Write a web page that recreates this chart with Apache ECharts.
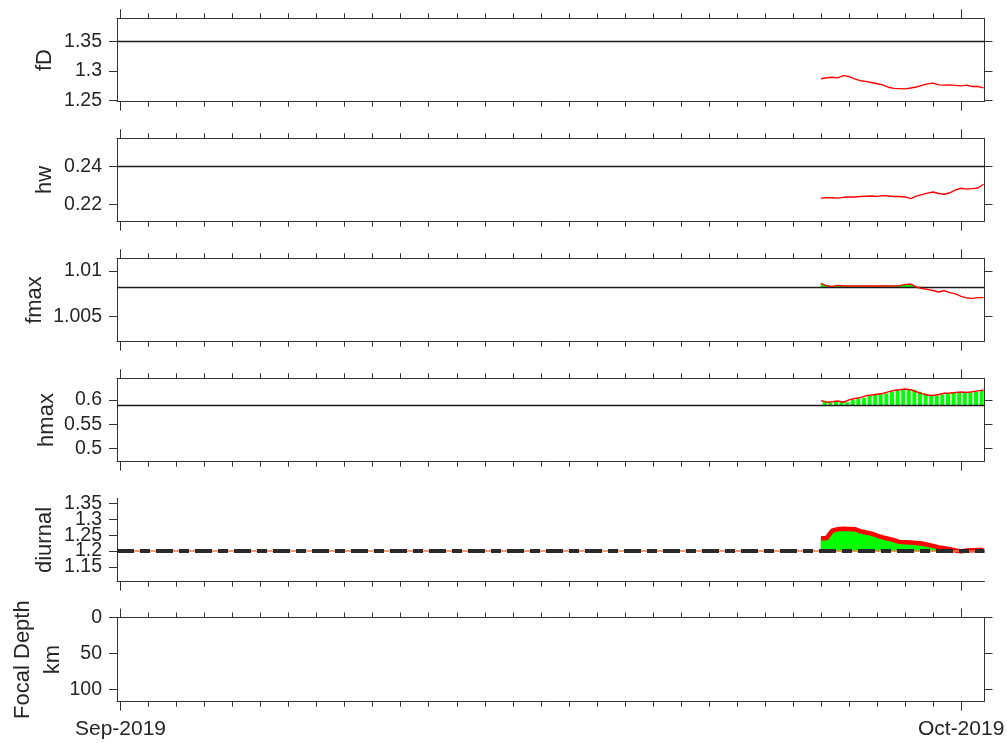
<!DOCTYPE html>
<html>
<head>
<meta charset="utf-8">
<script src="https://cdn.jsdelivr.net/npm/echarts@6/dist/echarts.min.js"></script>
<style>
html, body { margin: 0; padding: 0; background: #ffffff; }
#chart { width: 1007px; height: 743px; }
</style>
</head>
<body>
<div id="chart"></div>
<script>
// Sample times (every 0.2 day) for the monitored window at the end of September 2019
const sampleTimes = [
  '2019-09-26 00:00', '2019-09-26 04:48', '2019-09-26 09:36', '2019-09-26 14:24', '2019-09-26 19:12',
  '2019-09-27 00:00', '2019-09-27 04:48', '2019-09-27 09:36', '2019-09-27 14:24', '2019-09-27 19:12',
  '2019-09-28 00:00', '2019-09-28 04:48', '2019-09-28 09:36', '2019-09-28 14:24', '2019-09-28 19:12',
  '2019-09-29 00:00', '2019-09-29 04:48', '2019-09-29 09:36', '2019-09-29 14:24', '2019-09-29 19:12',
  '2019-09-30 00:00', '2019-09-30 04:48', '2019-09-30 09:36', '2019-09-30 14:24', '2019-09-30 19:12',
  '2019-10-01 00:00', '2019-10-01 04:48', '2019-10-01 09:36', '2019-10-01 14:24', '2019-10-01 19:12'
];

const fD = [
  1.2867, 1.2885, 1.2893, 1.2881, 1.2920, 1.2905, 1.2864, 1.2834, 1.2822, 1.2804,
  1.2781, 1.2762, 1.2723, 1.2703, 1.2699, 1.2695, 1.2709, 1.2727, 1.2755, 1.2780,
  1.2792, 1.2762, 1.2759, 1.2762, 1.2754, 1.2745, 1.2758, 1.2735, 1.2735, 1.2712
];
const hw = [
  0.2232, 0.2234, 0.2234, 0.2232, 0.2236, 0.2238, 0.2238, 0.2240, 0.2242, 0.2243,
  0.2241, 0.2245, 0.2243, 0.2240, 0.2240, 0.2238, 0.2229, 0.2242, 0.2250, 0.2258,
  0.2264, 0.2256, 0.2252, 0.2260, 0.2275, 0.2284, 0.2279, 0.2282, 0.2285, 0.2305
];
const fmax = [
  1.00865, 1.00838, 1.00832, 1.00842, 1.00836, 1.00836, 1.00835, 1.00836, 1.00835, 1.00836,
  1.00835, 1.00836, 1.00835, 1.00836, 1.00840, 1.00851, 1.00857, 1.00825, 1.00808, 1.00799,
  1.00786, 1.00770, 1.00786, 1.00763, 1.00750, 1.00723, 1.00705, 1.00700, 1.00708, 1.00708
];
const hmax = [
  0.5986, 0.5955, 0.5962, 0.5977, 0.5953, 0.6002, 0.6029, 0.6048, 0.6085, 0.6101,
  0.6118, 0.6135, 0.6167, 0.6196, 0.6209, 0.6227, 0.6211, 0.6171, 0.6131, 0.6102,
  0.6090, 0.6114, 0.6139, 0.6146, 0.6154, 0.6163, 0.6152, 0.6169, 0.6188, 0.6205
];
const diurnal = [
  1.2407, 1.2407, 1.2641, 1.2690, 1.2700, 1.2695, 1.2690, 1.2625, 1.2587, 1.2550,
  1.2485, 1.2430, 1.2390, 1.2345, 1.2290, 1.2280, 1.2268, 1.2255, 1.2240, 1.2200,
  1.2165, 1.2115, 1.2090, 1.2056, 1.2020, 1.1992, 1.2022, 1.2028, 1.2032, 1.2032
];

// Reference (threshold) levels drawn across each panel
const fDLevel = 1.35;
const hwLevel = 0.24;
const fmaxLevel = 1.00822;
const hmaxLevel = 0.5882;
const diurnalLevel = 1.2;

// Tick labels of the value axes
const fDTicks = [1.25, 1.3, 1.35];
const hwTicks = [0.22, 0.24];
const fmaxTicks = [1.005, 1.01];
const hmaxTicks = [0.5, 0.55, 0.6];
const diurnalTicks = [1.15, 1.2, 1.25, 1.3, 1.35];
const depthTicks = [0, 50, 100];

// Month labels on the time axis
const monthTicks = ['2019-09-01 00:00', '2019-10-01 00:00'];
const monthNames = ['Jan', 'Feb', 'Mar', 'Apr', 'May', 'Jun', 'Jul', 'Aug', 'Sep', 'Oct', 'Nov', 'Dec'];

const FONT = '"Liberation Sans", Arial, Helvetica, sans-serif';
const AXIS_COLOR = '#333333';
const TEXT_COLOR = '#262626';
const DAY = 86400000;
const STEP = 0.2 * DAY;

const parse = (s) => echarts.time.parse(s).getTime();
const tMin = parse('2019-08-31 21:00');
const tMax = parse('2019-10-01 20:00');
const monthValues = monthTicks.map(parse);
const dayValues = [];
for (let d = 0; d <= 30; d++) dayValues.push(parse('2019-09-01 00:00') + d * DAY);
const times = sampleTimes.map(parse);

const panels = [
  { name: 'fD', ticks: fDTicks, min: 1.2476, max: 1.3897, gap: 57, top: 18.3, height: 83.4, box: true },
  { name: 'hw', ticks: hwTicks, min: 0.21074, max: 0.25473, gap: 57, top: 138.3, height: 83.4, box: true },
  { name: 'fmax', ticks: fmaxTicks, min: 1.00226, max: 1.01139, gap: 67, top: 258.3, height: 83.4, box: true },
  { name: 'hmax', ticks: hmaxTicks, min: 0.4723, max: 0.6448, gap: 55, top: 378.3, height: 83.4, box: true },
  { name: 'diurnal', ticks: diurnalTicks, min: 1.1038, max: 1.366, gap: 57, top: 498.3, height: 83.4, box: false },
  { name: 'Focal Depth\nkm', ticks: depthTicks, min: 0, max: 117.5, gap: 49, top: 617.5, height: 84.2, box: true, inverse: true }
];

const grids = [], xAxes = [], yAxes = [], series = [];
const xMain = [], yMain = [];

function xAxis(gi, position, len, ticks, showLine, labels) {
  return {
    type: 'value', gridIndex: gi, position: position, min: tMin, max: tMax, scale: true,
    axisLine: { show: showLine, onZero: false, lineStyle: { color: AXIS_COLOR, width: 1 } },
    axisTick: { show: true, inside: false, length: len, customValues: ticks,
                lineStyle: { color: AXIS_COLOR, width: 1 } },
    axisLabel: labels ? {
      show: true, customValues: labels, margin: 17, fontSize: 21, color: TEXT_COLOR, fontFamily: FONT,
      hideOverlap: false,
      formatter: (v) => { const d = new Date(v); return monthNames[d.getMonth()] + '-' + d.getFullYear(); }
    } : { show: false },
    splitLine: { show: false }
  };
}

function yLabelStyle(values) {
  return { show: true, customValues: values, margin: 15, fontSize: 19.5, color: TEXT_COLOR,
           fontFamily: FONT, hideOverlap: false, interval: 0, formatter: (v) => String(v) };
}

panels.forEach((p, i) => {
  grids.push({ left: 117, width: 867.5, top: p.top, height: p.height, outerBoundsMode: 'none', containLabel: false });
  const last = i === panels.length - 1;
  // bottom axis: daily ticks + longer month ticks
  xMain.push(xAxes.length);
  xAxes.push(xAxis(i, 'bottom', 5, dayValues, true, last ? monthValues : null));
  xAxes.push(xAxis(i, 'bottom', 9, monthValues, false, null));
  if (p.box) {
    xAxes.push(xAxis(i, 'top', 5, dayValues, true, null));
    xAxes.push(xAxis(i, 'top', 9, monthValues, false, null));
  }
  // densely packed tick labels are split over two label layers so none is dropped
  const mainLabels = p.ticks.filter((v, k) => p.ticks.length < 5 || k % 2 === 0);
  const extraLabels = p.ticks.filter((v, k) => p.ticks.length >= 5 && k % 2 === 1);
  yMain.push(yAxes.length);
  yAxes.push({
    type: 'value', gridIndex: i, position: 'left', min: p.min, max: p.max, inverse: !!p.inverse,
    axisLine: { show: true, onZero: false, lineStyle: { color: AXIS_COLOR, width: 1 } },
    axisTick: { show: true, length: 8, customValues: p.ticks, lineStyle: { color: AXIS_COLOR, width: 1 } },
    axisLabel: yLabelStyle(mainLabels),
    splitLine: { show: false },
    name: p.name, nameLocation: 'middle', nameGap: p.gap, nameRotate: 90, nameMoveOverlap: false,
    nameTextStyle: { fontSize: 22, color: TEXT_COLOR, fontFamily: FONT, lineHeight: 30, align: 'center' }
  });
  if (extraLabels.length) {
    yAxes.push({
      type: 'value', gridIndex: i, position: 'left', min: p.min, max: p.max, inverse: !!p.inverse,
      axisLine: { show: false, onZero: false },
      axisTick: { show: false },
      axisLabel: yLabelStyle(extraLabels),
      splitLine: { show: false }
    });
  }
  if (p.box) {
    yAxes.push({
      type: 'value', gridIndex: i, position: 'right', min: p.min, max: p.max, inverse: !!p.inverse,
      axisLine: { show: true, onZero: false, lineStyle: { color: AXIS_COLOR, width: 1 } },
      axisTick: { show: true, length: 8, customValues: p.ticks, lineStyle: { color: AXIS_COLOR, width: 1 } },
      axisLabel: { show: false },
      splitLine: { show: false }
    });
  }
});

function pairs(values) { return times.map((t, i) => [t, values[i]]); }
function segments(values) {
  const out = [];
  for (let i = 0; i < times.length - 1; i++) out.push([times[i], values[i], times[i + 1], values[i + 1]]);
  return out;
}

function redLine(pi, values, width) {
  return {
    type: 'line', xAxisIndex: xMain[pi], yAxisIndex: yMain[pi], data: pairs(values),
    symbol: 'none', showSymbol: false, z: 10, silent: true,
    lineStyle: { color: '#ff0000', width: width }
  };
}

function levelLine(pi, level) {
  return {
    type: 'line', xAxisIndex: xMain[pi], yAxisIndex: yMain[pi], data: [], z: 3, silent: true,
    markLine: { z: 3, silent: true, symbol: 'none', animation: false, precision: 8,
                label: { show: false },
                lineStyle: { color: '#1a1a1a', width: 1.3, type: 'solid' },
                emphasis: { disabled: true },
                data: [{ yAxis: level }] }
  };
}

// green fill between a level and the curve (only where the curve is above it)
function greenArea(pi, values, level) {
  return {
    type: 'custom', xAxisIndex: xMain[pi], yAxisIndex: yMain[pi], z: 2, silent: true, clip: true,
    data: segments(values), encode: { x: [0, 2], y: [1, 3] },
    renderItem: (params, api) => {
      const t0 = api.value(0), v0 = api.value(1), t1 = api.value(2), v1 = api.value(3);
      if (v0 <= level && v1 <= level) return null;
      const a = api.coord([t0, Math.max(v0, level)]);
      const b = api.coord([t1, Math.max(v1, level)]);
      const c = api.coord([t1, level]);
      const d = api.coord([t0, level]);
      return { type: 'polygon', shape: { points: [a, b, c, d] },
               style: { fill: '#00ff00', stroke: '#00ff00', lineWidth: 0.6 } };
    }
  };
}

// green stems from a level up to each sample
function greenBars(pi, values, level) {
  return {
    type: 'custom', xAxisIndex: xMain[pi], yAxisIndex: yMain[pi], z: 2, silent: true, clip: true,
    data: pairs(values), encode: { x: 0, y: 1 },
    renderItem: (params, api) => {
      const t = api.value(0), v = api.value(1);
      const top = api.coord([t, Math.max(v, level)]);
      const bot = api.coord([t, level]);
      const sp = api.size([STEP, 0])[0];
      return { type: 'rect',
               shape: { x: top[0] + 0.3 * sp, y: Math.min(top[1], bot[1]), width: 0.72 * sp,
                        height: Math.abs(bot[1] - top[1]) },
               style: { fill: '#00ff00' } };
    }
  };
}

// fD
series.push(levelLine(0, fDLevel), redLine(0, fD, 1.4));
// hw
series.push(levelLine(1, hwLevel), redLine(1, hw, 1.4));
// fmax
series.push(greenArea(2, fmax, fmaxLevel), levelLine(2, fmaxLevel), redLine(2, fmax, 1.4));
// hmax
series.push(greenBars(3, hmax, hmaxLevel), levelLine(3, hmaxLevel), redLine(3, hmax, 1.5));
// diurnal
series.push(greenArea(4, diurnal, diurnalLevel), redLine(4, diurnal, 4.5));
series.push({
  type: 'line', xAxisIndex: xMain[4], yAxisIndex: yMain[4], data: [], z: 12, silent: true,
  markLine: {
    z: 12, silent: true, symbol: 'none', animation: false, precision: 8, label: { show: false },
    emphasis: { disabled: true },
    data: [
      { yAxis: diurnalLevel, lineStyle: { color: '#f07a4a', width: 1.6, type: 'solid' } },
      { yAxis: diurnalLevel, lineStyle: { color: '#2a2a2a', width: 4, type: [17, 6, 10, 6] } }
    ]
  }
});

const chart = echarts.init(document.getElementById('chart'), null, { renderer: 'canvas' });
chart.setOption({
  backgroundColor: '#ffffff',
  animation: false,
  grid: grids,
  xAxis: xAxes,
  yAxis: yAxes,
  series: series
});
</script>
</body>
</html>
